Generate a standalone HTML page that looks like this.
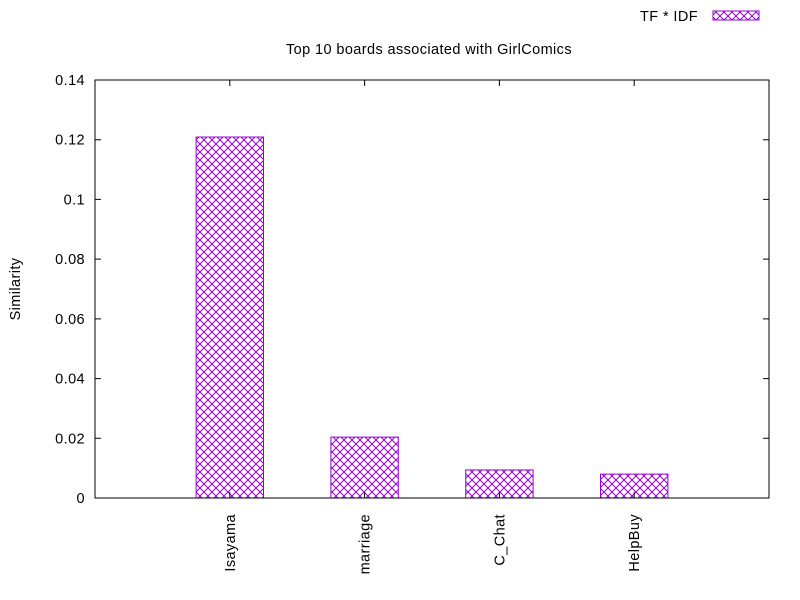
<!DOCTYPE html>
<html><head><meta charset="utf-8"><style>body{margin:0;background:#fff}svg{display:block;font-family:"Liberation Sans",sans-serif}</style></head>
<body>
<svg id="chart" width="800" height="600" xmlns="http://www.w3.org/2000/svg">
<defs><pattern id="hatch" patternUnits="userSpaceOnUse" width="8" height="8">
<path d="M0,0L8,8M8,0L0,8" stroke="#9400d3" stroke-width="1" fill="none"/></pattern></defs>
<g id="g"></g>
</svg>
<script>
const categories = ["Isayama","marriage","C_Chat","HelpBuy"];
const values = [0.1209,0.0204,0.0094,0.0080];
const yTicks = [0,0.02,0.04,0.06,0.08,0.1,0.12,0.14];
const yTickLabels = ["0","0.02","0.04","0.06","0.08","0.1","0.12","0.14"];
const L=95,R=769,T=80,B=498;
const FS=14.5, LS=0.4;
const x = i => L + (i+1)*(R-L)/5;
const y = v => B - v/0.14*(B-T);
const g = document.getElementById('g');
const NS="http://www.w3.org/2000/svg";
function mk(t,a,txt){const e=document.createElementNS(NS,t);for(const k in a)e.setAttribute(k,a[k]);if(txt!==undefined)e.textContent=txt;g.appendChild(e);return e;}
yTicks.forEach((v,i)=>{
  let t=mk('path',{d:`M${L},${y(v)}h6M${R},${y(v)}h-6`,stroke:'#000','stroke-width':1});
  
  
  let l=mk('text',{x:L-10,y:y(v)+5,'text-anchor':'end','font-size':FS,'letter-spacing':LS},yTickLabels[i]);
  
  
});
categories.forEach((c,i)=>{
  const w=(R-L)/10;
  let b=mk('rect',{x:x(i)-w/2,y:y(values[i]),width:w,height:B-y(values[i]),fill:'url(#hatch)',stroke:'#9400d3','stroke-width':1});
  
  
  let t=mk('path',{d:`M${x(i)},${B}v-6M${x(i)},${T}v6`,stroke:'#000','stroke-width':1});
  
  
  let l=mk('text',{x:0,y:0,'text-anchor':'end','font-size':FS,'letter-spacing':LS,transform:`translate(${x(i)+5},${B+16}) rotate(-90)`},c);
  
  
});
let f=mk('rect',{x:L,y:T,width:R-L,height:B-T,fill:'none',stroke:'#000','stroke-width':1});


let tt=mk('text',{x:429,y:54,'text-anchor':'middle','font-size':FS,'letter-spacing':LS},'Top 10 boards associated with GirlComics');


let yt=mk('text',{x:0,y:0,'text-anchor':'middle','font-size':FS,'letter-spacing':LS,transform:'translate(20,289) rotate(-90)'},'Similarity');


let lt=mk('text',{x:698,y:21,'text-anchor':'end','font-size':FS,'letter-spacing':LS},'TF * IDF');


let lb=mk('rect',{x:713,y:11,width:46,height:9,fill:'url(#hatch)',stroke:'#9400d3','stroke-width':1});


</script>
</body></html>
